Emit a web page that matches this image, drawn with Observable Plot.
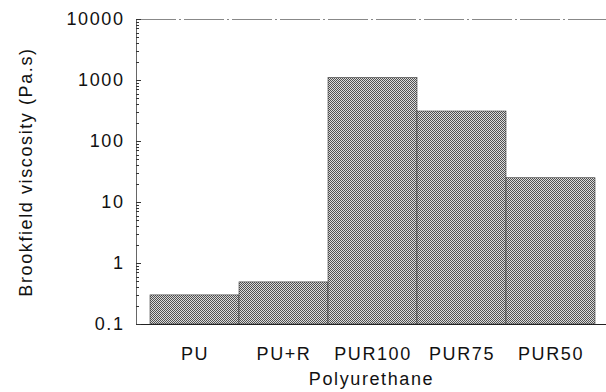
<!DOCTYPE html>
<html>
<head>
<meta charset="utf-8">
<script src="https://cdn.jsdelivr.net/npm/d3@7"></script>
<script src="https://cdn.jsdelivr.net/npm/@observablehq/plot@0.6"></script>
<style>
  html, body { margin: 0; padding: 0; background: #fff; }
</style>
</head>
<body>
<div id="chart"></div>
<script>
const categories = ["PU", "PU+R", "PUR100", "PUR75", "PUR50"];
const viscosity = [0.3, 0.49, 1100, 310, 25];
const majorTicks = [0.1, 1, 10, 100, 1000, 10000];
const majorLabels = ["0.1", "1", "10", "100", "1000", "10000"];
const decades = [0.1, 1, 10, 100, 1000];
const multiples = [2, 3, 4, 5, 6, 7, 8, 9];
const minorTicks = [];
for (const d of decades) for (const m of multiples) minorTicks.push(d * m);

const data = categories.map((c, i) => ({name: c, value: viscosity[i]}));

// inward ticks on the left axis, positioned through Plot's y scale
function innerTicks(index, scales, values, dimensions) {
  const g = d3.create("svg:g").attr("aria-label", "y-axis inner ticks").attr("stroke", "#333").attr("stroke-width", 1);
  const x0 = dimensions.marginLeft;
  const draw = (ticks, len) => {
    for (const t of ticks) {
      const y = Math.round(scales.y(t)) + 0.5;
      g.append("line").attr("x1", x0).attr("x2", x0 + len).attr("y1", y).attr("y2", y);
    }
  };
  draw(minorTicks, 3);
  draw(majorTicks, 5);
  return g.node();
}

const chart = Plot.plot({
  width: 606,
  height: 392,
  marginLeft: 136,
  marginRight: 0,
  marginTop: 19,
  marginBottom: 68,
  style: {
    fontFamily: "'Liberation Sans', Arial, sans-serif",
    fontSize: "18px",
    letterSpacing: "1.6px",
    background: "#fff",
    color: "#111"
  },
  x: {domain: categories, range: [148, 597], padding: 0},
  y: {type: "log", domain: [0.1, 10000]},
  marks: [
    Plot.barY(data, {x: "name", y1: 0.1, y2: "value", fill: "url(#dither)", stroke: "#3a3a3a", strokeWidth: 0.6}),
    Plot.ruleY([0.1], {stroke: "#222", strokeWidth: 1}),
    Plot.ruleY([10000], {stroke: "#888", strokeWidth: 1, strokeDasharray: "40 3 2 3"}),
    Plot.frame({anchor: "left", stroke: "#666"}),
    innerTicks,
    Plot.axisY(majorTicks, {
      tickSize: 0,
      tickPadding: 12,
      tickFormat: (d) => majorLabels[majorTicks.indexOf(d)],
      label: "Brookfield viscosity (Pa.s)",
      labelArrow: false,
      labelAnchor: "center",
      labelOffset: 117
    }),
    Plot.axisX({
      tickSize: 0,
      tickPadding: 23,
      label: "Polyurethane",
      labelArrow: false,
      labelAnchor: "center",
      labelOffset: 60
    })
  ]
});

const ns = "http://www.w3.org/2000/svg";
const defs = document.createElementNS(ns, "defs");
defs.innerHTML = `<pattern id="dither" width="2" height="2" patternUnits="userSpaceOnUse">
  <rect width="2" height="2" fill="#dcdcdc"/>
  <rect x="0" y="0" width="1" height="1" fill="#505050"/>
  <rect x="1" y="1" width="1" height="1" fill="#505050"/>
</pattern>`;
chart.insertBefore(defs, chart.firstChild);

document.getElementById("chart").appendChild(chart);
</script>
</body>
</html>
